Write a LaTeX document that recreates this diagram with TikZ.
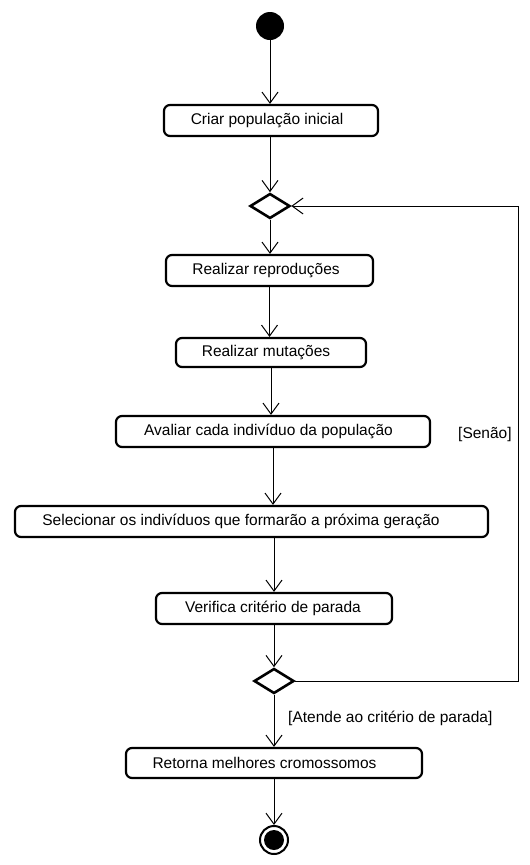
\documentclass[tikz,border=0pt]{standalone}
\usepackage{fontspec}
\setmainfont{Liberation Sans}
\usetikzlibrary{arrows.meta,shapes.geometric}
\begin{document}
\begin{tikzpicture}[x=1pt,y=-1pt,
  act/.style={draw, line width=2.2pt, rounded corners=6pt, minimum height=31pt, inner sep=0pt, font=\fontsize{15.5}{18}\selectfont},
  dec/.style={draw, diamond, line width=2.6pt, inner sep=0pt, minimum width=40pt, minimum height=25pt},
  flow/.style={line width=1pt, -{Straight Barb[length=11pt,width=16pt,line width=1pt]}},
  guard/.style={font=\fontsize{15.5}{18}\selectfont, inner sep=0pt}]
\useasboundingbox (0,0) rectangle (530,865);
\node[circle, fill=black, minimum size=28pt, inner sep=0pt] (start) at (270,26) {};
\node[act, minimum width=214pt] (b1) at (271,120.5) {\hspace*{-8pt}Criar população inicial};
\node[dec] (d1) at (270,206) {};
\node[act, minimum width=207pt] (b2) at (269.5,270.5) {\hspace*{-7pt}Realizar reproduções};
\node[act, minimum width=190pt, minimum height=29pt] (b3) at (271,352.5) {\hspace*{-10pt}Realizar mutações};
\node[act, minimum width=314pt] (b4) at (273,431.5) {\hspace*{-9pt}Avaliar cada indivíduo da população};
\node[act, minimum width=473pt] (b5) at (251.5,521.5) {\hspace*{-21pt}Selecionar os indivíduos que formarão a próxima geração};
\node[act, minimum width=236pt] (b6) at (274,608.5) {\hspace*{-2pt}Verifica critério de parada};
\node[dec] (d2) at (274,681) {};
\node[act, minimum width=296pt, minimum height=30pt] (b7) at (274,763) {\hspace*{-19pt}Retorna melhores cromossomos};
\node[circle, draw, line width=2pt, minimum size=28pt, inner sep=0pt] (end) at (274,840) {};
\node[circle, fill=black, minimum size=20pt, inner sep=0pt] (endin) at (end.center) {};
\coordinate (loopx) at (518,0);
\node[guard, anchor=west] (g1) at (458,434) {[Senão]};
\node[guard, anchor=west] (g2) at (288,718) {[Atende ao critério de parada]};
\draw[flow] (start.south) -- (start.south |- b1.north);
\draw[flow] (d1.north |- b1.south) -- (d1.north);
\draw[flow] (d1.south) -- (d1.south |- b2.north);
\draw[flow] (b2.south) -- (b2.south |- b3.north);
\draw[flow] (b3.south) -- (b3.south |- b4.north);
\draw[flow] (b4.south) -- (b4.south |- b5.north);
\draw[flow] (b6.north |- b5.south) -- (b6.north);
\draw[flow] (b6.south) -- (d2.north);
\draw[flow] (d2.south) -- (b7.north);
\draw[flow] (b7.south) -- (end.north);
\draw[flow] (d2.east) -- (d2.east -| loopx) -- (loopx |- d1.east) -- (d1.east);
\end{tikzpicture}
\end{document}
